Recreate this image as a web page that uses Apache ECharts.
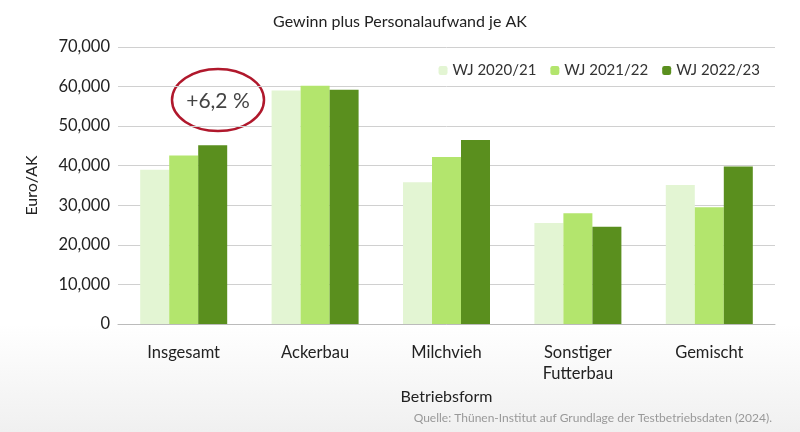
<!DOCTYPE html>
<html><head><meta charset="utf-8">
<script src="https://cdn.jsdelivr.net/npm/echarts@6/dist/echarts.min.js"></script>
<style>html,body{margin:0;padding:0;}#c{width:800px;height:432px;background:linear-gradient(#fff 0%,#fff 75%,#f0f0f0 100%);}</style>
</head><body><div id="c"></div>
<script>
const categories = ['Insgesamt','Ackerbau','Milchvieh','Sonstiger\nFutterbau','Gemischt'];
const seriesNames = ['WJ 2020/21','WJ 2021/22','WJ 2022/23'];
const wj2021 = [39000, 59000, 35800, 25500, 35100];
const wj2122 = [42600, 60200, 42200, 28000, 29500];
const wj2223 = [45200, 59200, 46500, 24600, 39800];
const colors = ['#e3f5d3','#b3e56d','#5a8f1e'];
const font = 'Lato, sans-serif';
const chart = echarts.init(document.getElementById('c'));
const data = [wj2021, wj2122, wj2223];
chart.setOption({
  animation:false,
  textStyle:{fontFamily:font},
  title:{text:'Gewinn plus Personalaufwand je AK',left:'center',top:9,textStyle:{fontSize:16,fontWeight:'normal',color:'#222',fontFamily:font}},
  legend:{data:seriesNames,right:35,top:58,itemWidth:9,itemHeight:9,itemGap:14,textStyle:{fontSize:15,color:'#333',fontFamily:font}},
  grid:{left:118,right:25,top:47,bottom:108},
  xAxis:{type:'category',data:categories,name:'Betriebsform',nameLocation:'middle',nameGap:54,
    nameTextStyle:{fontSize:16,color:'#222'},
    axisLine:{lineStyle:{color:'#bbb'}},axisTick:{show:false},
    axisLabel:{fontSize:16.5,color:'#222',margin:18,lineHeight:21}},
  yAxis:{type:'value',min:0,max:70000,interval:10000,name:'Euro/AK',nameLocation:'middle',nameGap:78,
    nameTextStyle:{fontSize:16,color:'#222'},
    axisLabel:{fontSize:16.5,color:'#222',formatter:v=>v.toLocaleString('en-US')},
    splitLine:{lineStyle:{color:'#d0d0d0'}}},
  series: seriesNames.map((n,i)=>({name:n,type:'bar',data:data[i],barWidth:29,barGap:'0%',barCategoryGap:'30%',itemStyle:{color:colors[i]}})),
  graphic:[
    {type:'ellipse',shape:{cx:218,cy:100,rx:46,ry:31},style:{fill:'rgba(255,255,255,0.6)',stroke:'#b0182c',lineWidth:2.5}},
    {type:'text',x:218,y:101,style:{text:'+6,2 %',fontSize:21,fill:'#444',align:'center',verticalAlign:'middle',fontFamily:font}},
    {type:'text',right:28,bottom:8,style:{text:'Quelle: Thünen-Institut auf Grundlage der Testbetriebsdaten (2024).',fontSize:12,fill:'#999',fontFamily:font}}
  ]
});
</script></body></html>
